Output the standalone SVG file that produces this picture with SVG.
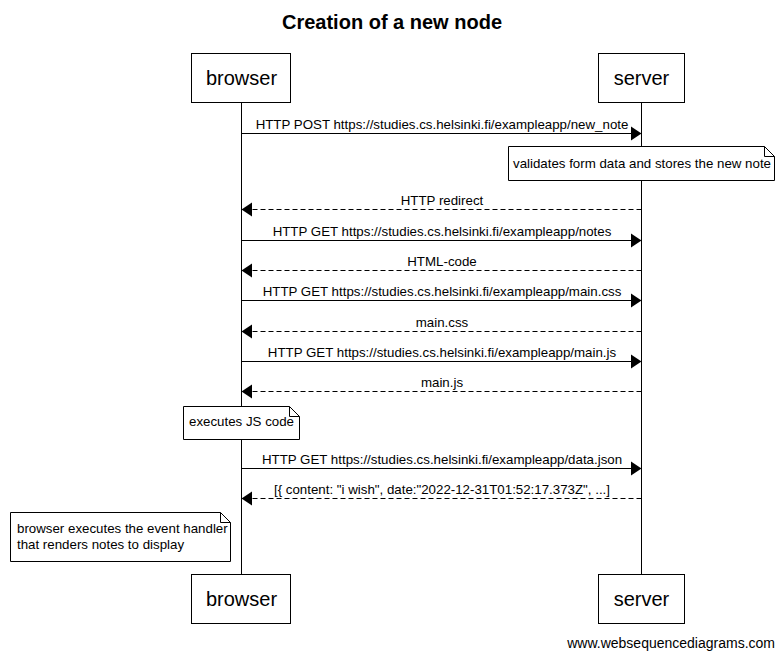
<svg xmlns="http://www.w3.org/2000/svg" width="784" height="658" viewBox="0 0 784 658">
<defs>
<style>
text{font-family:"Liberation Sans",Arial,sans-serif;fill:#000}
.box{fill:#fff;stroke:#000;stroke-width:1}
.actor{font-size:20px;text-anchor:middle}
.lbl{font-size:13.3px;text-anchor:middle}
.note{font-size:13.3px}
.life{stroke:#000;stroke-width:1}
.msg{stroke:#000;stroke-width:1;fill:none}
.dash{stroke-dasharray:5,3}
.head{fill:#000}
</style>
</defs>
<rect width="784" height="658" fill="#fff"/>
<text x="392" y="29" text-anchor="middle" font-size="20" font-weight="bold">Creation of a new node</text>
<g id="lifelines">
<line class="life" x1="241.5" y1="102" x2="241.5" y2="574"/>
<line class="life" x1="641.5" y1="102" x2="641.5" y2="574"/>
</g>
<g id="browser">
<rect class="box" x="191.5" y="53.5" width="99" height="49"/>
<text class="actor" x="241.5" y="85">browser</text>
</g>
<g id="server">
<rect class="box" x="598.5" y="53.5" width="86" height="49"/>
<text class="actor" x="641.5" y="85">server</text>
</g>
<g id="browser-bottom">
<rect class="box" x="191.5" y="574.5" width="99" height="49"/>
<text class="actor" x="241.5" y="606">browser</text>
</g>
<g id="server-bottom">
<rect class="box" x="598.5" y="574.5" width="86" height="49"/>
<text class="actor" x="641.5" y="606">server</text>
</g>
<g id="connectors">
<line class="msg" x1="241.5" y1="133.5" x2="632" y2="133.5"/>
<polygon class="head" points="641.5,133.5 631,126.5 631,140.5"/>
<text class="lbl" x="442" y="129">HTTP POST https://studies.cs.helsinki.fi/exampleapp/new_note</text>

<line class="msg dash" x1="641.5" y1="209.5" x2="251" y2="209.5"/>
<polygon class="head" points="241.5,209.5 252,202.5 252,216.5"/>
<text class="lbl" x="442" y="205">HTTP redirect</text>

<line class="msg" x1="241.5" y1="240.5" x2="632" y2="240.5"/>
<polygon class="head" points="641.5,240.5 631,233.5 631,247.5"/>
<text class="lbl" x="442" y="236">HTTP GET https://studies.cs.helsinki.fi/exampleapp/notes</text>

<line class="msg dash" x1="641.5" y1="270.5" x2="251" y2="270.5"/>
<polygon class="head" points="241.5,270.5 252,263.5 252,277.5"/>
<text class="lbl" x="442" y="266">HTML-code</text>

<line class="msg" x1="241.5" y1="300.5" x2="632" y2="300.5"/>
<polygon class="head" points="641.5,300.5 631,293.5 631,307.5"/>
<text class="lbl" x="442" y="296">HTTP GET https://studies.cs.helsinki.fi/exampleapp/main.css</text>

<line class="msg dash" x1="641.5" y1="331.5" x2="251" y2="331.5"/>
<polygon class="head" points="241.5,331.5 252,324.5 252,338.5"/>
<text class="lbl" x="442" y="327">main.css</text>

<line class="msg" x1="241.5" y1="361.5" x2="632" y2="361.5"/>
<polygon class="head" points="641.5,361.5 631,354.5 631,368.5"/>
<text class="lbl" x="442" y="357">HTTP GET https://studies.cs.helsinki.fi/exampleapp/main.js</text>

<line class="msg dash" x1="641.5" y1="391.5" x2="251" y2="391.5"/>
<polygon class="head" points="241.5,391.5 252,384.5 252,398.5"/>
<text class="lbl" x="442" y="387">main.js</text>

<line class="msg" x1="241.5" y1="468.5" x2="632" y2="468.5"/>
<polygon class="head" points="641.5,468.5 631,461.5 631,475.5"/>
<text class="lbl" x="442" y="464">HTTP GET https://studies.cs.helsinki.fi/exampleapp/data.json</text>

<line class="msg dash" x1="641.5" y1="498.5" x2="251" y2="498.5"/>
<polygon class="head" points="241.5,498.5 252,491.5 252,505.5"/>
<text class="lbl" x="442" y="494">[{ content: "i wish", date:"2022-12-31T01:52:17.373Z", ...]</text>
</g>
<g id="note-validates">
<path class="box" d="M508.5,146.5 H764.5 L774.5,156.5 V180.5 H508.5 Z"/>
<path class="msg" d="M764.5,146.5 V156.5 H774.5"/>
<text class="note" x="513" y="168">validates form data and stores the new note</text>
</g>
<g id="note-executes">
<path class="box" d="M183.5,406.5 H289.5 L299.5,416.5 V439.5 H183.5 Z"/>
<path class="msg" d="M289.5,406.5 V416.5 H299.5"/>
<text class="note" x="189" y="426">executes JS code</text>
</g>
<g id="note-handler">
<path class="box" d="M10.5,512.5 H220.5 L230.5,522.5 V561.5 H10.5 Z"/>
<path class="msg" d="M220.5,512.5 V522.5 H230.5"/>
<text class="note" x="17" y="533">browser executes the event handler</text>
<text class="note" x="17" y="549">that renders notes to display</text>
</g>
<text x="775" y="648" text-anchor="end" font-size="14">www.websequencediagrams.com</text>
</svg>
